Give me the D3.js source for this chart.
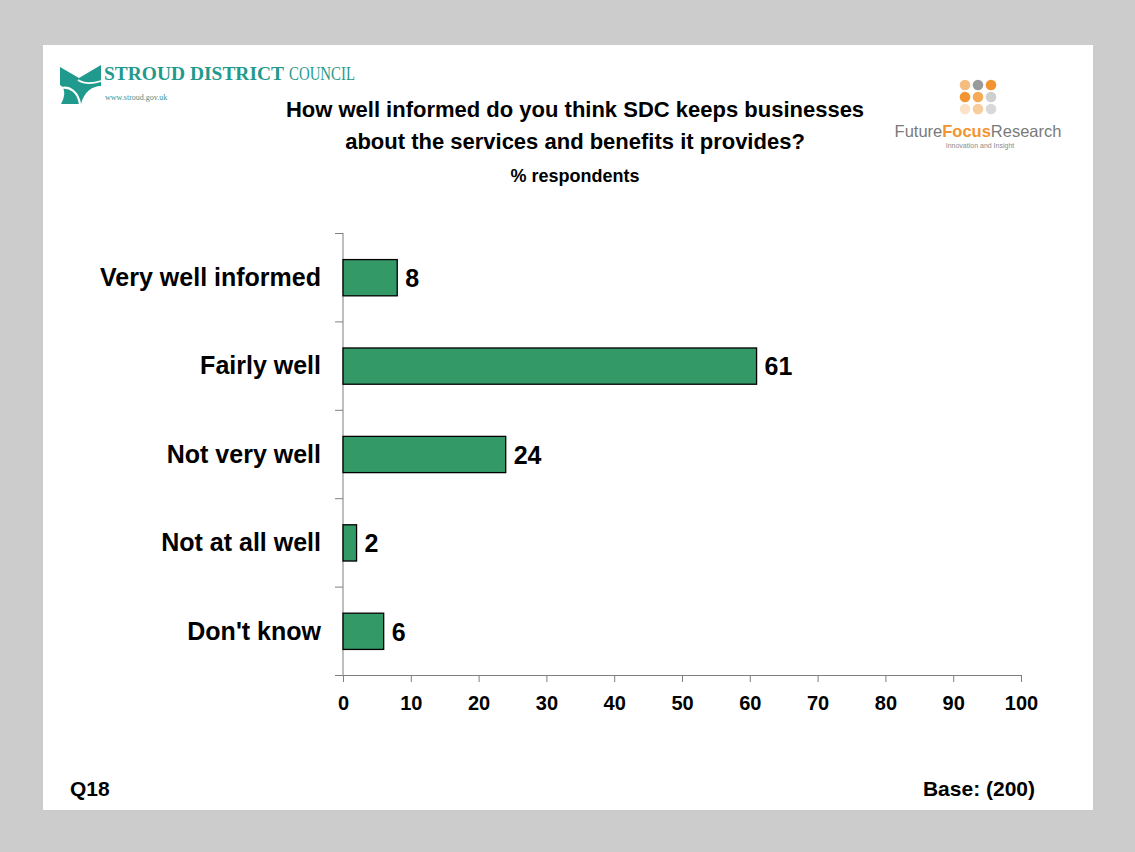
<!DOCTYPE html>
<html>
<head>
<meta charset="utf-8">
<script src="https://cdn.jsdelivr.net/npm/d3@7"></script>
<style>
  html, body { margin: 0; padding: 0; background: #cccccc; }
  svg { display: block; }
</style>
</head>
<body>
<svg id="chart" width="1135" height="852"></svg>
<script>
// Survey responses, % of businesses
const categories = ["Very well informed", "Fairly well", "Not very well", "Not at all well", "Don't know"];
const percentages = [8, 61, 24, 2, 6];
const xTicks = [0, 10, 20, 30, 40, 50, 60, 70, 80, 90, 100];
const titleLines = [
  "How well informed do you think SDC keeps businesses",
  "about the services and benefits it provides?"
];
const subtitle = "% respondents";
const questionLabel = "Q18";
const baseLabel = "Base: (200)";

const svg = d3.select("#chart");
const font = "Liberation Sans, Arial, Helvetica, sans-serif";
const serif = "Liberation Serif, Times New Roman, serif";

// white slide panel
svg.append("rect").attr("x", 43).attr("y", 45).attr("width", 1050).attr("height", 765).attr("fill", "#ffffff");

// --- Stroud District Council logo ---
const sdc = svg.append("g");
sdc.append("path")
  .attr("d", "M60,67 L79,78 L101,65 L101,86 C92,86 84,92 81,104 L61,104 C66,95 65,88 60,85 Z")
  .attr("fill", "#1f9a8c");
sdc.append("path")
  .attr("d", "M61,88 C70,86 78,92 80,104")
  .attr("fill", "none").attr("stroke", "#ffffff").attr("stroke-width", 2.2);
sdc.append("path")
  .attr("d", "M78,80 C84,84 92,84 101,81")
  .attr("fill", "none").attr("stroke", "#ffffff").attr("stroke-width", 1.6);
sdc.append("text").attr("x", 104).attr("y", 80)
  .attr("font-family", serif).attr("font-size", 19).attr("font-weight", "bold")
  .attr("fill", "#1f9a8c").attr("textLength", 180).attr("lengthAdjust", "spacingAndGlyphs")
  .text("STROUD DISTRICT");
sdc.append("text").attr("x", 289).attr("y", 80)
  .attr("font-family", serif).attr("font-size", 19)
  .attr("fill", "#1f9a8c").attr("textLength", 66).attr("lengthAdjust", "spacingAndGlyphs")
  .text("COUNCIL");
sdc.append("text").attr("x", 105).attr("y", 100)
  .attr("font-family", serif).attr("font-size", 8)
  .attr("fill", "#4a8f86").text("www.stroud.gov.uk");

// --- Future Focus Research logo ---
const ffr = svg.append("g");
const dotColors = [
  ["#f6bd80", "#9a9a9a", "#f29530"],
  ["#f29530", "#f5ab55", "#cfcfcf"],
  ["#fbe2c6", "#f8cd9c", "#d8d8d8"]
];
dotColors.forEach((row, r) => row.forEach((c, k) => {
  ffr.append("circle").attr("cx", 965 + k * 13).attr("cy", 85 + r * 12).attr("r", 5.3).attr("fill", c);
}));
const ffrText = ffr.append("text").attr("x", 978).attr("y", 137).attr("text-anchor", "middle")
  .attr("font-family", font).attr("font-size", 16.5).attr("fill", "#7a7a7a");
ffrText.append("tspan").text("Future");
ffrText.append("tspan").attr("fill", "#f29530").attr("font-weight", "bold").text("Focus");
ffrText.append("tspan").text("Research");
ffr.append("text").attr("x", 980).attr("y", 148).attr("text-anchor", "middle")
  .attr("font-family", font).attr("font-size", 7).attr("fill", "#8a8a8a").text("Innovation and Insight");

// --- titles ---
titleLines.forEach((t, i) => {
  svg.append("text").attr("x", 575).attr("y", 117 + i * 32).attr("text-anchor", "middle")
    .attr("font-family", font).attr("font-weight", "bold").attr("font-size", 22).attr("fill", "#000")
    .text(t);
});
svg.append("text").attr("x", 575).attr("y", 182).attr("text-anchor", "middle")
  .attr("font-family", font).attr("font-weight", "bold").attr("font-size", 18).attr("fill", "#000")
  .text(subtitle);

// --- plot ---
const plot = { left: 343, right: 1021, top: 233, bottom: 675 };
const x = d3.scaleLinear().domain([0, 100]).range([plot.left, plot.right]);
const y = d3.scaleBand().domain(categories).range([plot.top, plot.bottom]).padding(0);
const barH = y.bandwidth() * 0.41;
const axisColor = "#7f7f7f";

// x axis
const xAxis = svg.append("g").attr("transform", `translate(0,${plot.bottom})`)
  .call(d3.axisBottom(x).tickValues(xTicks).tickSize(7).tickSizeOuter(7).tickFormat(d3.format("d")));
xAxis.select(".domain").attr("stroke", axisColor);
xAxis.selectAll(".tick line").attr("stroke", axisColor);
xAxis.selectAll(".tick text").attr("font-family", font).attr("font-weight", "bold")
  .attr("font-size", 20).attr("fill", "#000").attr("y", 35).attr("dy", 0);

// y axis with ticks between categories
const yAxis = svg.append("g");
yAxis.append("line").attr("x1", plot.left).attr("x2", plot.left)
  .attr("y1", plot.top).attr("y2", plot.bottom).attr("stroke", axisColor);
const boundaries = categories.map(c => y(c)).concat([plot.bottom]);
yAxis.selectAll("line.tick").data(boundaries).join("line").attr("class", "tick")
  .attr("x1", plot.left - 8).attr("x2", plot.left)
  .attr("y1", d => d + 0.5).attr("y2", d => d + 0.5).attr("stroke", axisColor);

// category labels
svg.append("g").selectAll("text").data(categories).join("text")
  .attr("x", 321).attr("y", c => y(c) + y.bandwidth() / 2)
  .attr("dy", "0.35em").attr("text-anchor", "end")
  .attr("font-family", font).attr("font-weight", "bold").attr("font-size", 25).attr("fill", "#000")
  .text(c => c);

// bars
const data = categories.map((c, i) => ({ c, v: percentages[i] }));
svg.append("g").selectAll("rect").data(data).join("rect")
  .attr("x", x(0)).attr("y", d => y(d.c) + (y.bandwidth() - barH) / 2 + 0.5)
  .attr("width", d => x(d.v) - x(0)).attr("height", barH)
  .attr("fill", "#339966").attr("stroke", "#000").attr("stroke-width", 1.3);

// value labels
svg.append("g").selectAll("text").data(data).join("text")
  .attr("x", d => x(d.v) + 8).attr("y", d => y(d.c) + y.bandwidth() / 2 + 1)
  .attr("dy", "0.35em")
  .attr("font-family", font).attr("font-weight", "bold").attr("font-size", 25).attr("fill", "#000")
  .text(d => d.v);

// footer
svg.append("text").attr("x", 70).attr("y", 796)
  .attr("font-family", font).attr("font-weight", "bold").attr("font-size", 21).text(questionLabel);
svg.append("text").attr("x", 1035).attr("y", 796).attr("text-anchor", "end")
  .attr("font-family", font).attr("font-weight", "bold").attr("font-size", 21).text(baseLabel);
</script>
</body>
</html>
